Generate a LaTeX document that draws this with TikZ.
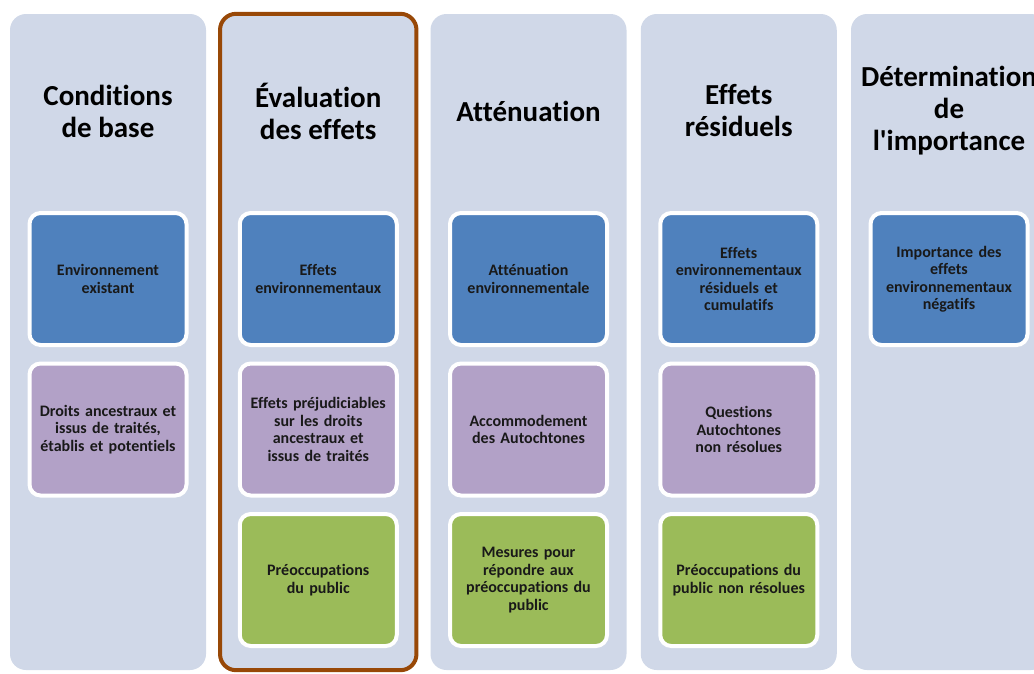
\documentclass[tikz,border=0pt]{standalone}
\usepackage{fontspec}
\setmainfont{Carlito}[Ligatures={TeX,NoCommon}]
\usepackage{tikz}
\usetikzlibrary{positioning}
\definecolor{colbg}{HTML}{D0D8E8}
\definecolor{envblue}{HTML}{4F81BD}
\definecolor{rightspurple}{HTML}{B2A1C7}
\definecolor{publicgreen}{HTML}{9BBB59}
\definecolor{frameorange}{HTML}{984807}
\def\colsep{210.25}
\def\boxsep{18.5pt}

\begin{document}
\begin{tikzpicture}[x=1pt,y=-1pt,
	column/.style={rectangle, rounded corners=16pt, fill=colbg, minimum width=196pt, minimum height=656pt, inner sep=0pt},
	title/.style={font=\fontsize{29}{32}\selectfont\bfseries, align=center, text=black},
	card/.style={rectangle, rounded corners=11pt, draw=white, line width=4pt, minimum width=157pt, minimum height=132pt, inner sep=0pt, outer sep=0pt, text width=152pt, align=center, font=\fontsize{16}{17.5}\selectfont\bfseries, text=black!90},
	env/.style={card, fill=envblue},
	rights/.style={card, fill=rightspurple},
	public/.style={card, fill=publicgreen},
	node distance=\boxsep
	]
	\useasboundingbox (0,0) rectangle (1034,673);
	
	\foreach \i in {1,...,5}
	\node[column] (c\i) at (108+\colsep*\i-\colsep,342) {};
	
	\draw[frameorange, line width=4pt, rounded corners=16pt] (c2.north west) rectangle (c2.south east);
	
	% titles
	\node[title] (t1) at (c1.center |- 0,111) {Conditions\\de base};
	\node[title] (t2) at (c2.center |- 0,111) {Évaluation\\des effets};
	\node[title] (t3) at (c3.center |- 0,111) {Atténuation};
	\node[title] (t4) at (c4.center |- 0,111) {Effets\\résiduels};
	\node[title] (t5) at (c5.center |- 0,111) {Détermination\\de\\l\textquotesingle importance};
	
	% environment row
	\node[env] (e1) at (c1.center |- 0,279) {Environnement\\existant};
	\node[env] (e2) at (c2.center |- 0,279) {Effets\\environnementaux};
	\node[env] (e3) at (c3.center |- 0,279) {Atténuation\\environnementale};
	\node[env] (e4) at (c4.center |- 0,279) {Effets\\environnementaux\\résiduels et\\cumulatifs};
	\node[env] (e5) at (c5.center |- 0,279) {Importance des\\effets\\environnementaux\\négatifs};
	
	% rights row
	\node[rights, below=of e1] (r1) {Droits ancestraux et\\issus de traités,\\établis et potentiels};
	\node[rights, below=of e2] (r2) {Effets préjudiciables\\sur les droits\\ancestraux et\\issus de traités};
	\node[rights, below=of e3] (r3) {Accommodement\\des Autochtones};
	\node[rights, below=of e4] (r4) {Questions\\Autochtones\\non résolues};
	
	% public row
	\node[public, below=of r2] (p2) {Préoccupations\\du public};
	\node[public, below=of r3] (p3) {Mesures pour\\répondre aux\\préoccupations du\\public};
	\node[public, below=of r4] (p4) {Préoccupations du\\public non résolues};
	
\end{tikzpicture}
\end{document}
